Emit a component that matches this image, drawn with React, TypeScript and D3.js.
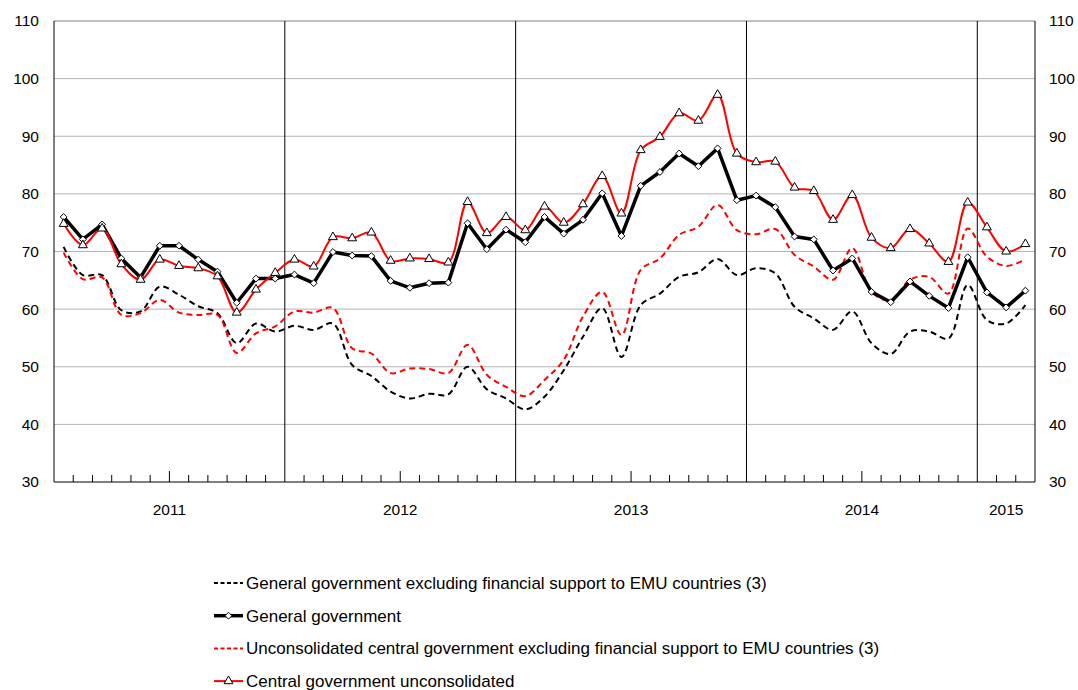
import { useRef, useEffect } from 'react';
import * as d3 from 'd3';

const YEARS = ['2011', '2012', '2013', '2014', '2015'];
const MONTHS_PER_YEAR = [12, 12, 12, 12, 3];
const Y_TICKS = [30, 40, 50, 60, 70, 80, 90, 100, 110];

// General government excluding financial support to EMU countries (3)
const genGovExcl = [
  70.8, 65.9, 65.9, 59.8, 59.6, 63.9, 62.5, 60.5, 59.3, 54.1, 57.5, 56.1,
  57.1, 56.4, 57.5, 50.3, 48.4, 45.7, 44.5, 45.3, 45.2, 50.0, 46.1, 44.5,
  42.6, 44.8, 49.4, 55.2, 60.2, 51.7, 60.7, 62.7, 65.6, 66.4, 68.7, 65.9,
  67.1, 66.2, 60.4, 58.4, 56.4, 59.6, 54.1, 52.2, 56.1, 56.1, 54.9, 64.2,
  58.1, 57.5, 60.7,
];

// General government
const genGov = [
  76.0, 72.1, 74.7, 68.8, 65.5, 71.0, 71.0, 68.6, 66.5, 61.1, 65.3, 65.3,
  66.0, 64.5, 69.9, 69.3, 69.2, 64.9, 63.7, 64.5, 64.6, 74.9, 70.4, 73.8,
  71.6, 76.0, 73.1, 75.5, 80.1, 72.7, 81.4, 83.8, 87.0, 84.8, 87.9, 78.9,
  79.7, 77.7, 72.6, 72.1, 66.7, 68.8, 63.0, 61.2, 64.8, 62.3, 60.2, 69.0,
  62.9, 60.3, 63.2,
];

// Unconsolidated central government excluding financial support to EMU countries (3)
const centralExcl = [
  69.8, 65.2, 65.5, 59.0, 59.3, 61.6, 59.4, 59.0, 59.0, 52.4, 55.8, 57.0,
  59.6, 59.4, 60.2, 53.2, 52.3, 48.9, 49.7, 49.6, 48.9, 53.8, 48.6, 46.5,
  44.9, 47.7, 51.2, 58.7, 63.0, 55.5, 66.8, 68.8, 72.9, 74.3, 78.1, 73.7,
  73.0, 73.9, 69.4, 67.4, 65.1, 70.6, 63.0, 61.5, 65.1, 65.6, 62.7, 74.0,
  69.1, 67.5, 68.6,
];

// Central government unconsolidated
const centralUncons = [
  74.8, 71.1, 74.0, 67.8, 65.1, 68.6, 67.5, 67.1, 65.7, 59.4, 63.4, 66.3,
  68.6, 67.4, 72.5, 72.3, 73.3, 68.4, 68.8, 68.7, 68.1, 78.6, 73.2, 76.0,
  73.7, 77.8, 75.0, 78.2, 83.1, 76.6, 87.6, 89.9, 94.0, 92.7, 97.2, 87.0,
  85.5, 85.6, 81.1, 80.5, 75.5, 79.8, 72.4, 70.6, 73.9, 71.4, 68.2, 78.5,
  74.2, 70.0, 71.3,
];

const LEGEND = [
  'General government excluding financial support to EMU countries (3)',
  'General government',
  'Unconsolidated central government excluding financial support to EMU countries (3)',
  'Central government unconsolidated',
];

const WIDTH = 1078;
const HEIGHT = 690;
const MARGIN = { top: 21, right: 43, bottom: 208, left: 54 };
const FONT = 'Liberation Sans, Arial, sans-serif';

export default function App() {
  const svgRef = useRef<SVGSVGElement>(null);

  useEffect(() => {
    if (!svgRef.current) return;
    const svg = d3.select(svgRef.current);
    svg.selectAll('*').remove();

    const plotRight = WIDTH - MARGIN.right;
    const plotBottom = HEIGHT - MARGIN.bottom;
    const n = genGov.length;

    const x = d3.scaleLinear().domain([0, n]).range([MARGIN.left, plotRight]);
    const y = d3.scaleLinear().domain([30, 110]).range([plotBottom, MARGIN.top]);
    const cx = (i: number) => x(i + 0.5);

    // gridlines
    svg.append('g')
      .selectAll('line')
      .data(Y_TICKS.filter(t => t > 30))
      .join('line')
      .attr('x1', MARGIN.left).attr('x2', plotRight)
      .attr('y1', d => y(d)).attr('y2', d => y(d))
      .attr('stroke', d => (d === 110 ? '#808080' : '#b3b3b3'))
      .attr('stroke-width', 1);

    // year separators
    const yearStarts: number[] = [];
    let acc = 0;
    MONTHS_PER_YEAR.forEach(m => { yearStarts.push(acc); acc += m; });
    svg.append('g')
      .selectAll('line')
      .data(yearStarts.slice(1))
      .join('line')
      .attr('x1', d => x(d)).attr('x2', d => x(d))
      .attr('y1', MARGIN.top).attr('y2', plotBottom)
      .attr('stroke', '#000').attr('stroke-width', 1);

    // axes frame
    svg.append('line')
      .attr('x1', MARGIN.left).attr('x2', MARGIN.left)
      .attr('y1', MARGIN.top).attr('y2', plotBottom)
      .attr('stroke', '#000');
    svg.append('line')
      .attr('x1', plotRight).attr('x2', plotRight)
      .attr('y1', MARGIN.top).attr('y2', plotBottom)
      .attr('stroke', '#000');
    svg.append('line')
      .attr('x1', MARGIN.left).attr('x2', plotRight)
      .attr('y1', plotBottom).attr('y2', plotBottom)
      .attr('stroke', '#000');

    // month ticks
    const monthTicks = d3.range(1, n).filter(i => !yearStarts.includes(i));
    svg.append('g')
      .selectAll('line')
      .data(monthTicks)
      .join('line')
      .attr('x1', d => x(d)).attr('x2', d => x(d))
      .attr('y1', plotBottom)
      .attr('y2', d => plotBottom - (d % 12 === 6 ? 11 : 7))
      .attr('stroke', '#000');

    // y labels both sides
    const yLabels = svg.append('g')
      .attr('font-family', FONT).attr('font-size', 15.5).attr('fill', '#000');
    Y_TICKS.forEach(t => {
      yLabels.append('text')
        .attr('x', 39).attr('y', y(t)).attr('dy', '0.35em')
        .attr('text-anchor', 'end').text(t);
      yLabels.append('text')
        .attr('x', plotRight + 14).attr('y', y(t)).attr('dy', '0.35em')
        .attr('text-anchor', 'start').text(t);
    });

    // year labels
    svg.append('g')
      .selectAll('text')
      .data(YEARS)
      .join('text')
      .attr('x', (d, i) => x(yearStarts[i] + MONTHS_PER_YEAR[i] / 2))
      .attr('y', plotBottom + 33)
      .attr('text-anchor', 'middle')
      .attr('font-family', FONT).attr('font-size', 15.5)
      .text(d => d);

    const line = d3.line<number>()
      .x((_, i) => cx(i))
      .y(d => y(d));
    const smooth = d3.line<number>()
      .x((_, i) => cx(i))
      .y(d => y(d))
      .curve(d3.curveCatmullRom.alpha(0.5));

    const lines = svg.append('g').attr('fill', 'none');
    lines.append('path').attr('d', smooth(genGovExcl))
      .attr('stroke', '#000').attr('stroke-width', 2).attr('stroke-dasharray', '6,4');
    lines.append('path').attr('d', smooth(centralExcl))
      .attr('stroke', '#ff0000').attr('stroke-width', 2).attr('stroke-dasharray', '6,4');
    lines.append('path').attr('d', line(genGov))
      .attr('stroke', '#000').attr('stroke-width', 3.5).attr('stroke-linejoin', 'round');
    lines.append('path').attr('d', smooth(centralUncons))
      .attr('stroke', '#ff0000').attr('stroke-width', 2);

    const diamond = d3.symbol(d3.symbolDiamond2, 30);
    const triangle = d3.symbol(d3.symbolTriangle, 34);

    svg.append('g')
      .selectAll('path')
      .data(genGov)
      .join('path')
      .attr('d', diamond())
      .attr('transform', (d, i) => `translate(${cx(i)},${y(d)})`)
      .attr('fill', '#fff').attr('stroke', '#000').attr('stroke-width', 1);

    svg.append('g')
      .selectAll('path')
      .data(centralUncons)
      .join('path')
      .attr('d', triangle())
      .attr('transform', (d, i) => `translate(${cx(i)},${y(d)})`)
      .attr('fill', '#fff').attr('stroke', '#000').attr('stroke-width', 1);

    // legend
    const lg = svg.append('g').attr('font-family', FONT).attr('font-size', 17);
    LEGEND.forEach((label, i) => {
      const ly = 583 + i * 32.7;
      const row = lg.append('g');
      const color = i < 2 ? '#000' : '#ff0000';
      const sample = row.append('line')
        .attr('x1', 214).attr('x2', 243).attr('y1', ly).attr('y2', ly)
        .attr('stroke', color)
        .attr('stroke-width', i === 1 ? 3.5 : 2);
      if (i === 0 || i === 2) sample.attr('stroke-dasharray', '4,2.5');
      if (i === 1) {
        row.append('path').attr('d', diamond())
          .attr('transform', `translate(228.5,${ly})`)
          .attr('fill', '#fff').attr('stroke', '#000');
      }
      if (i === 3) {
        row.append('path').attr('d', triangle())
          .attr('transform', `translate(228.5,${ly})`)
          .attr('fill', '#fff').attr('stroke', '#000');
      }
      row.append('text')
        .attr('x', 246).attr('y', ly).attr('dy', '0.35em')
        .text(label);
    });
  }, []);

  return (
    <div style={{ position: 'absolute', left: 0, top: 0, width: WIDTH, height: HEIGHT, background: '#fff' }}>
      <svg ref={svgRef} width={WIDTH} height={HEIGHT} />
    </div>
  );
}
